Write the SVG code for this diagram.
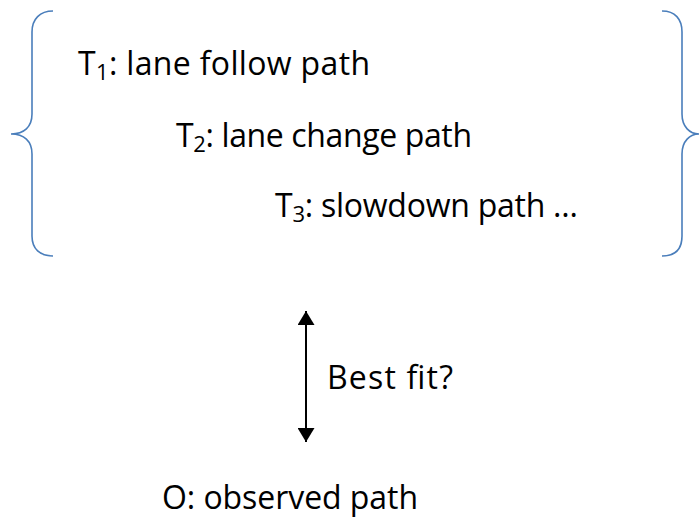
<svg xmlns="http://www.w3.org/2000/svg" width="700" height="520" viewBox="0 0 700 520">
  <style>
    .lbl { font-family: "Open Sans", "Liberation Sans", sans-serif; font-size: 32px; fill: #000; }
    .sub { font-size: 22px; }
    .brace { fill: none; stroke: #4a7ebb; stroke-width: 1.6; }
    .conn { stroke: #000; stroke-width: 2; fill: none; }
  </style>
  <defs>
    <marker id="tri" viewBox="0 0 14 17" refX="14" refY="8.5" markerWidth="14" markerHeight="17" markerUnits="userSpaceOnUse" orient="auto-start-reverse">
      <path d="M0,0 L14,8.5 L0,17 Z" fill="#000"/>
    </marker>
  </defs>

  <!-- candidate path set enclosed in braces -->
  <g id="candidates">
    <path class="brace" d="M53,11 C40,11 32,19 32,32 L32,114 C32,127 24,134 11,134 C24,134 32,141 32,154 L32,236 C32,249 40,256 53,256"/>
    <path class="brace" d="M662,11 C675,11 682,19 682,32 L682,114 C682,127 690,134 699,134 C690,134 682,141 682,154 L682,236 C682,249 675,256 662,256"/>
  </g>

  <g id="t1">
    <text class="lbl" x="78" y="75" textLength="292" lengthAdjust="spacing">T<tspan class="sub" dy="5">1</tspan><tspan dy="-5">: lane follow path</tspan></text>
  </g>
  <g id="t2">
    <text class="lbl" x="176" y="147" textLength="296" lengthAdjust="spacing">T<tspan class="sub" dy="5">2</tspan><tspan dy="-5">: lane change path</tspan></text>
  </g>
  <g id="t3">
    <text class="lbl" x="275" y="217" textLength="303" lengthAdjust="spacing">T<tspan class="sub" dy="5">3</tspan><tspan dy="-5">: slowdown path …</tspan></text>
  </g>

  <g id="connectors">
    <line class="conn" x1="306" y1="311" x2="306" y2="442" marker-start="url(#tri)" marker-end="url(#tri)"/>
    <text class="lbl" x="327" y="389" textLength="126" lengthAdjust="spacing">Best fit?</text>
  </g>

  <g id="observed">
    <text class="lbl" x="162" y="509" textLength="256" lengthAdjust="spacing">O: observed path</text>
  </g>
</svg>
